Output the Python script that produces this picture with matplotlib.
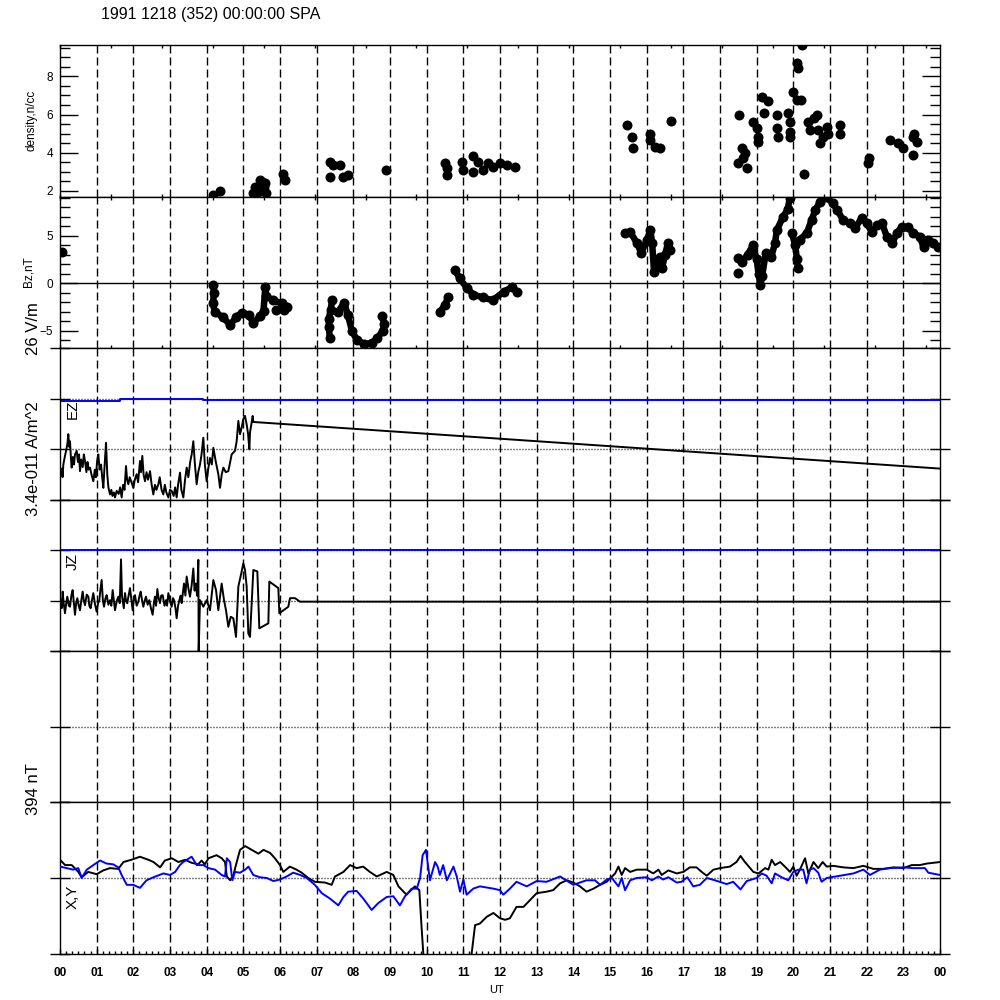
import numpy as np
import matplotlib
matplotlib.use('Agg')
import matplotlib.pyplot as plt
from matplotlib.ticker import FixedLocator, MultipleLocator, NullLocator

plt.rcParams['font.family'] = ['Liberation Sans', 'DejaVu Sans']
plt.rcParams['lines.scale_dashes'] = False

# ---------------- data ----------------
title = '1991 1218 (352) 00:00:00 SPA'
hour_labels = ['%02d' % (h % 24) for h in range(25)]

dens_h = [4.17, 4.36, 5.27, 5.4, 5.5, 5.6, 5.37, 5.33, 5.45, 5.55, 5.62, 6.08, 6.14,
          7.36, 7.45, 7.36, 7.64, 7.72, 7.85, 8.9,
          10.5, 10.55, 10.55, 10.96, 10.99, 11.27, 11.4, 11.27, 11.54, 11.67, 11.8, 12.0, 12.2, 12.4,
          15.46, 15.6, 15.63, 16.1, 16.1, 16.23, 16.36, 16.66,
          18.52, 18.6, 18.68, 18.63, 18.5, 18.74, 18.9, 19.0, 19.04, 19.04, 19.14, 19.3, 19.2,
          19.55, 19.55, 19.58, 19.85, 19.9, 19.9, 19.9, 20.0, 20.1, 20.2, 20.1, 20.12, 20.23, 20.3,
          20.4, 20.45, 20.55, 20.65, 20.67, 20.73, 20.8, 20.92, 20.95, 21.27, 21.27, 22.07, 22.04,
          22.64, 22.85, 23.0, 23.27, 23.3, 23.38, 23.27]
dens_v = [1.8, 2.0, 1.9, 2.2, 2.45, 2.4, 1.9, 2.2, 2.55, 2.2, 1.9, 2.9, 2.55,
          3.5, 3.35, 2.7, 3.35, 2.7, 2.8, 3.1,
          3.45, 3.2, 2.85, 3.5, 3.1, 3.8, 3.5, 3.0, 3.1, 3.45, 3.25, 3.45, 3.35, 3.25,
          5.45, 4.8, 4.25, 5.0, 4.65, 4.3, 4.25, 5.65,
          5.95, 4.25, 4.0, 3.7, 3.45, 3.2, 5.6, 5.3, 4.8, 4.55, 6.9, 6.7, 6.1,
          6.0, 5.3, 4.8, 6.1, 5.6, 5.1, 4.8, 7.2, 6.75, 6.75, 8.7, 8.45, 9.65, 2.9,
          5.6, 5.2, 5.8, 6.0, 5.2, 4.5, 4.8, 5.35, 5.0, 5.45, 5.0, 3.7, 3.45,
          4.65, 4.5, 4.25, 4.8, 5.0, 4.55, 3.9]

nan = np.nan
bz_h = [0.05, nan,
        4.18, 4.2, 4.17, 4.22, 4.45, 4.64, 4.8, 4.95, 5.15, 5.27, 5.45, 5.55, 5.6, 5.62, 5.8, 6.05, 6.2, 6.1, 5.9, nan,
        7.42, 7.38, 7.33, 7.33, 7.36, nan,
        7.58, 7.75, 7.85, 7.96, 8.1, 8.3, 8.5, 8.65, 8.8, 8.85, 8.78, nan,
        10.36, 10.5, 10.58, nan,
        10.77, 10.9, 11.1, 11.27, 11.54, 11.8, 12.1, 12.33, 12.45, nan,
        15.4, 15.55, 15.74, 15.85, 16.0, 16.1, 16.15, 16.2, 16.3, 16.36, 16.42, 16.5, 16.58, 16.64, nan,
        18.5, nan,
        18.48, 18.6, 18.75, 18.9, 19.0, 19.05, 19.1, 19.15, 19.25, 19.4, 19.5, 19.55, 19.72, 19.85, 19.9, nan,
        19.96, 20.05, 20.1, 20.12, nan,
        20.18, 20.37, 20.5, 20.6, 20.73, 20.9, 21.08, 21.2, 21.35, 21.55, 21.68, 21.87, 22.0, 22.14,
        22.28, 22.42, 22.55, 22.7, 22.82, 22.96, 23.13, 23.27, 23.45, 23.55, 23.67, 23.82, 23.95]
bz_v = [3.3, nan,
        -0.2, -1.0, -2.1, -3.0, -3.6, -4.4, -3.6, -3.1, -3.3, -4.2, -3.5, -2.9, -0.4, -1.3, -1.8, -2.1, -2.5, -2.8, -2.8, nan,
        -1.8, -2.8, -3.8, -4.6, -5.8, nan,
        -3.0, -2.1, -3.3, -5.0, -6.0, -6.4, -6.3, -5.8, -5.0, -4.3, -3.5, nan,
        -3.0, -2.3, -1.5, nan,
        1.4, 0.5, -0.5, -1.2, -1.5, -1.8, -0.9, -0.4, -0.9, nan,
        5.3, 5.4, 4.2, 3.2, 4.5, 5.6, 4.2, 1.2, 2.2, 2.8, 1.6, 3.0, 4.2, 3.5, nan,
        1.1, nan,
        2.7, 2.2, 3.0, 4.0, 2.5, 1.0, -0.2, 0.8, 3.2, 2.8, 4.2, 5.6, 7.0, 7.8, 9.0, nan,
        5.3, 4.0, 2.5, 1.6, nan,
        4.6, 5.3, 6.7, 7.7, 8.6, 9.1, 8.4, 7.7, 6.7, 6.3, 5.8, 6.9, 6.3, 5.4,
        6.1, 6.3, 4.9, 4.2, 5.3, 5.9, 5.9, 5.3, 4.9, 3.8, 4.6, 4.2, 3.8]

ez_h = [0.018, 0.05, 0.07, 0.091, 0.13, 0.16, 0.2, 0.227, 0.25, 0.273, 0.3, 0.318, 0.35, 0.38,
        0.41, 0.455, 0.49, 0.52, 0.545, 0.58, 0.62, 0.65, 0.682, 0.72, 0.75, 0.78, 0.818, 0.86,
        0.909, 0.95, 0.98, 1.01, 1.045, 1.08, 1.12, 1.15, 1.182, 1.21, 1.255, 1.29, 1.32, 1.364,
        1.4, 1.43, 1.47, 1.5, 1.545, 1.6, 1.64, 1.682, 1.72, 1.76, 1.8, 1.83, 1.864, 1.9, 1.95,
        2.0, 2.04, 2.091, 2.13, 2.182, 2.21, 2.245, 2.28, 2.318, 2.36, 2.4, 2.455, 2.5, 2.545,
        2.59, 2.63, 2.682, 2.72, 2.77, 2.818, 2.86, 2.9, 2.955, 3.0, 3.045, 3.1, 3.14, 3.182,
        3.22, 3.273, 3.31, 3.364, 3.41, 3.455, 3.5, 3.55, 3.591, 3.636, 3.68, 3.727, 3.77, 3.818,
        3.86, 3.909, 3.95, 4.0, 4.04, 4.091, 4.14, 4.182, 4.25, 4.318, 4.364, 4.41, 4.455, 4.52,
        4.591, 4.64, 4.682, 4.773, 4.818, 4.864, 4.91, 4.955, 5.0, 5.045, 5.091, 5.13, 5.164,
        5.182, 5.22, 5.255, 5.273, 24.0]
ez_v = [0.51, 0.62, 0.45, 0.70, 0.85, 0.95, 1.1, 1.30, 1.05, 1.16, 0.8, 0.64, 0.85, 0.7,
        0.9, 0.97, 0.75, 0.9, 0.57, 0.8, 0.65, 0.9, 0.77, 0.55, 0.75, 0.6, 0.64, 0.5,
        0.37, 0.6, 0.45, 0.75, 0.9, 0.6, 0.7, 0.45, 0.24, 0.6, 1.13, 0.5, 0.25, 0.11,
        0.2, 0.08, 0.15, 0.05, 0.18, 0.12, 0.25, 0.05, 0.3, 0.2, 0.67, 0.4, 0.31, 0.45, 0.35,
        0.24, 0.4, 0.51, 0.35, 0.77, 0.55, 0.87, 0.5, 0.37, 0.55, 0.4, 0.57, 0.3, 0.11,
        0.3, 0.2, 0.31, 0.45, 0.2, 0.11, 0.3, 0.15, 0.05, 0.2, 0.18, 0.08, 0.25, 0.05,
        0.3, 0.54, 0.2, 0.05, 0.4, 0.64, 0.45, 0.75, 0.90, 1.16, 0.7, 0.31, 0.55, 0.70,
        0.9, 1.23, 0.7, 0.37, 0.6, 0.83, 0.7, 1.03, 0.75, 0.51, 0.24, 0.5, 0.64, 0.55,
        0.57, 0.75, 0.90, 0.97, 1.16, 1.56, 1.3, 1.43, 1.6, 1.66, 1.49, 1.3, 1.0,
        1.33, 1.5, 1.66, 1.54, 0.62]
ez_ref_h = [0.0, 1.64, 3.9, 24.0]
ez_ref_v = [1.95, 2.0, 1.97, 1.97]

jz_h = [0.018, 0.045, 0.073, 0.1, 0.136, 0.17, 0.2, 0.24, 0.273, 0.31, 0.345, 0.38, 0.409, 0.44,
        0.473, 0.51, 0.545, 0.58, 0.618, 0.65, 0.682, 0.73, 0.773, 0.8, 0.836, 0.87, 0.909, 0.95,
        1.0, 1.04, 1.073, 1.1, 1.136, 1.17, 1.2, 1.24, 1.273, 1.32, 1.364, 1.4, 1.436, 1.47, 1.5,
        1.55, 1.591, 1.63, 1.664, 1.69, 1.709, 1.74, 1.773, 1.8, 1.836, 1.87, 1.909, 1.95, 1.982,
        2.01, 2.045, 2.09, 2.136, 2.17, 2.2, 2.24, 2.273, 2.31, 2.345, 2.39, 2.436, 2.48, 2.527,
        2.56, 2.591, 2.62, 2.655, 2.69, 2.727, 2.76, 2.8, 2.85, 2.891, 2.92, 2.955, 3.0, 3.045,
        3.08, 3.109, 3.15, 3.182, 3.22, 3.255, 3.29, 3.318, 3.35, 3.382, 3.42, 3.455, 3.5, 3.545,
        3.59, 3.636, 3.67, 3.7, 3.74, 3.773, 3.782,
        3.818, 3.909, 4.0, 4.091, 4.182, 4.255, 4.318, 4.409, 4.473, 4.527, 4.591, 4.655, 4.727,
        4.8, 4.864, 4.955, 5.0, 5.045, 5.091, 5.136, 5.182, 5.273, 5.382, 5.436, 5.682, 5.709,
        5.955, 5.982, 6.227, 6.273, 6.409, 6.545, 6.8, 24.0]
jz_v = [1.01, 0.85, 1.18, 0.95, 0.75, 0.95, 1.08, 0.9, 0.88, 1.1, 1.21, 0.95, 0.72, 0.95,
        1.05, 0.9, 0.81, 1.0, 1.18, 1.0, 0.91, 1.12, 1.08, 0.9, 0.85, 1.0, 1.15, 0.95,
        0.78, 0.95, 1.01, 1.2, 1.41, 1.0, 0.88, 1.05, 1.11, 0.92, 1.01, 0.9, 1.21, 1.0, 0.81,
        1.0, 1.08, 0.95, 1.82, 1.1, 1.01, 0.85, 1.15, 1.0, 0.95, 1.1, 1.25, 1.0, 0.81,
        1.0, 1.11, 0.9, 0.98, 1.1, 1.18, 1.0, 0.88, 1.0, 1.08, 0.92, 1.01, 0.85, 0.72,
        0.95, 1.08, 0.9, 1.23, 1.05, 0.95, 1.1, 1.11, 0.9, 1.01, 0.9, 1.15, 1.0, 0.88,
        1.05, 1.01, 0.85, 0.65, 0.9, 1.01, 1.1, 0.95, 1.15, 1.34, 1.1, 1.48, 1.25, 1.08,
        1.3, 1.64, 1.2, 1.34, 1.1, 1.81, -0.01,
        1.01, 0.88, 1.01, 0.81, 1.41, 1.21, 0.81, 1.34, 1.01, 0.81, 0.48, 0.68, 0.65,
        0.28, 1.28, 1.58, 1.74, 1.61, 1.28, 0.35, 0.28, 1.61, 1.58, 0.45, 0.55, 1.38,
        1.25, 0.75, 0.88, 1.05, 1.05, 0.98, 0.98, 0.98]
jz_ref_h = [0.0, 24.0]
jz_ref_v = [2.0, 2.0]

x_h = [0, 0.14, 0.23, 0.32, 0.5, 0.59, 0.77, 1.0, 1.18, 1.36, 1.59, 1.73, 1.95, 2.18, 2.41, 2.55,
       2.73, 2.86, 3.05, 3.23, 3.41, 3.59, 3.77, 3.86, 3.95, 4.05, 4.27, 4.41, 4.5, 4.55, 4.64,
       4.73, 4.82, 4.91, 5.05, 5.23, 5.41, 5.55, 5.73, 5.86, 6.0, 6.09, 6.27, 6.45, 6.59, 6.77,
       6.95, 7.23, 7.41, 7.5, 7.73, 7.91, 8.09, 8.27, 8.45, 8.64, 8.91, 9.09, 9.23, 9.45, 9.68,
       9.8, 9.86, 9.95, nan,
       11.15, 11.32, 11.45, 11.64, 11.82, 12.0, 12.14, 12.27, 12.45, 12.64, 12.82, 13.0, 13.27,
       13.45, 13.64, 13.82, 14.0, 14.18, 14.36, 14.55, 14.73, 14.91, 15.14, 15.23, 15.32, 15.41,
       15.55, 15.73, 16.0, 16.18, 16.32, 16.41, 16.59, 16.82, 17.0, 17.18, 17.36, 17.5, 17.64,
       17.82, 18.0, 18.27, 18.45, 18.56, 18.68, 18.91, 19.05, 19.23, 19.32, 19.41, 19.5, 19.64,
       19.77, 19.91, 20.0, 20.09, 20.18, 20.32, 20.41, 20.55, 20.68, 20.8, 20.91, 21.09, 21.36,
       21.64, 21.91, 22.18, 22.45, 22.73, 23.0, 23.23, 23.45, 23.64, 23.82, 24.0]
x_v = [0.24, 0.17, 0.17, 0.17, 0.08, 0.01, 0.08, 0.05, 0.1, 0.13, 0.12, 0.21, 0.24, 0.28, 0.24, 0.21,
       0.14, 0.23, 0.26, 0.21, 0.24, 0.2, 0.18, 0.23, 0.18, 0.26, 0.3, 0.26, 0.21, 0.02, -0.03,
       0.04, 0.21, 0.37, 0.42, 0.37, 0.32, 0.37, 0.33, 0.26, 0.17, 0.08, 0.15, 0.11, 0.07, 0.0,
       -0.05, -0.06, -0.09, 0.02, 0.08, 0.17, 0.13, 0.15, 0.08, 0.02, 0.08, 0.04, -0.11, -0.22, -0.11,
       -0.16, -0.64, -1.3, nan,
       -1.3, -0.62, -0.6, -0.51, -0.46, -0.53, -0.55, -0.53, -0.38, -0.38, -0.29, -0.2, -0.18,
       -0.16, -0.07, -0.03, -0.06, -0.11, -0.18, -0.14, -0.09, -0.05, 0.06, 0.15, 0.04, 0.13,
       0.08, 0.11, 0.11, 0.06, 0.11, 0.04, 0.1, 0.06, 0.08, 0.14, 0.14, 0.08, 0.03,
       0.11, 0.13, 0.15, 0.21, 0.29, 0.21, 0.08, 0.06, 0.13, 0.11, 0.24, 0.17, 0.21,
       0.15, 0.08, 0.15, 0.03, 0.11, 0.26, 0.06, 0.21, 0.13, 0.21, 0.15, 0.16, 0.14,
       0.13, 0.16, 0.12, 0.12, 0.14, 0.13, 0.17, 0.17, 0.19, 0.2, 0.21]

y_h = [0, 0.18, 0.36, 0.5, 0.59, 0.73, 0.91, 1.09, 1.27, 1.45, 1.59, 1.68, 1.82, 2.0, 2.18, 2.36,
       2.55, 2.82, 3.0, 3.14, 3.27, 3.36, 3.59, 3.73, 3.91, 4.05, 4.23, 4.41, 4.5, 4.55, 4.64, 4.7,
       4.77, 4.91, 5.05, 5.14, 5.27, 5.45, 5.64, 5.82, 6.0, 6.18, 6.36, 6.55, 6.73, 6.95, 7.14,
       7.36, 7.59, 7.73, 7.86, 8.09, 8.27, 8.5, 8.68, 8.91, 9.09, 9.27, 9.41, 9.59, 9.73, 9.82,
       9.89, 9.98, 10.09, 10.23, 10.3, 10.36, 10.45, 10.55, 10.73, 10.82, 10.91, 11.0, 11.09,
       11.27, 11.45, 11.82, 12.0, 12.09, 12.27, 12.45, 12.73, 13.0, 13.27, 13.64, 14.0, 14.36,
       14.59, 14.73, 14.91, 15.05, 15.23, 15.32, 15.41, 15.55, 15.73, 16.0, 16.14, 16.32, 16.45,
       16.59, 16.82, 16.95, 17.11, 17.27, 17.45, 17.64, 17.86, 18.18, 18.36, 18.56, 18.73, 19.0,
       19.14, 19.27, 19.41, 19.5, 19.68, 19.86, 20.0, 20.14, 20.27, 20.36, 20.45, 20.55, 20.68,
       20.77, 20.91, 21.27, 21.64, 21.91, 22.09, 22.36, 22.64, 23.0, 23.27, 23.59, 23.68, 24.0]
y_v = [0.15, 0.13, 0.11, 0.13, 0.0, 0.11, 0.17, 0.23, 0.19, 0.18, 0.14, 0.04, -0.09, -0.09, -0.13,
       -0.03, 0.01, 0.06, 0.04, 0.08, 0.17, 0.21, 0.28, 0.17, 0.17, 0.13, 0.11, 0.04, 0.02, 0.26,
       0.21, -0.03, 0.08, 0.07, 0.11, 0.15, 0.04, 0.01, 0.0, -0.04, -0.02, 0.02, 0.07, 0.04, 0.0,
       -0.09, -0.2, -0.27, -0.36, -0.25, -0.18, -0.17, -0.27, -0.42, -0.33, -0.25, -0.24, -0.36,
       -0.24, -0.14, -0.14, 0.0, 0.3, 0.37, -0.03, 0.21, 0.15, 0.04, 0.17, -0.03, 0.15, 0.02,
       -0.18, -0.02, -0.22, -0.14, -0.11, -0.14, -0.16, -0.22, -0.14, -0.05, -0.11, -0.04, -0.05,
       0.02, -0.09, -0.03, -0.03, -0.09, -0.02, 0.0, -0.11, 0.0, -0.16, -0.03, 0.0, 0.01, -0.03,
       0.02, -0.02, 0.01, -0.06, -0.05, 0.01, -0.11, -0.09, 0.0, -0.03, -0.08, -0.05, -0.15,
       -0.04, 0.0, 0.06, 0.03, -0.07, 0.06, 0.01, -0.03, 0.08, 0.11, 0.11, -0.07, 0.11, 0.13,
       0.07, -0.05, 0.0, 0.03, 0.06, 0.11, 0.04, 0.11, 0.13, 0.14, 0.13, 0.13, 0.07, 0.04]

# ---------------- layout ----------------
PX = 0.72  # points per pixel at 100 dpi
fig = plt.figure(figsize=(10, 10), dpi=100)
bounds = [45, 197, 348, 500, 651, 802, 954]
axes = []
for i in range(6):
    top, bot = bounds[i], bounds[i + 1]
    ax = fig.add_axes([0.06, 1 - bot / 1000, 0.88, (bot - top) / 1000])
    ax.set_xlim(0, 24)
    for s in ax.spines.values():
        s.set_linewidth(1.0)
    for h in range(1, 24):
        ax.axvline(h, color='k', lw=1.0, dashes=(8 * PX, 4 * PX), zorder=1)
    axes.append(ax)

BLUE = '#0000ff'
tick_fs = 8.5

# density
ax = axes[0]
ax.scatter(dens_h, dens_v, s=(10 * PX) ** 2, color='k', zorder=3, linewidths=0)
ax.set_ylim(1.67, 9.65)
ax.yaxis.set_major_locator(FixedLocator([2, 4, 6, 8]))
ax.yaxis.set_minor_locator(MultipleLocator(0.5))

# Bz
ax = axes[1]
ax.plot(bz_h, bz_v, '-o', color='k', lw=6.5 * PX, ms=10 * PX, mew=0, zorder=3,
        solid_capstyle='round', solid_joinstyle='round')
ax.axhline(0, color='k', lw=1.0, zorder=2)
ax.set_ylim(-6.82, 9.08)
ax.yaxis.set_major_locator(FixedLocator([-5, 0, 5]))
ax.yaxis.set_minor_locator(MultipleLocator(1))

for ax in axes[:2]:
    ax.tick_params(axis='y', which='major', direction='in', length=18 * PX, width=1.0,
                   left=True, right=True, labelsize=tick_fs, pad=5)
    ax.tick_params(axis='y', which='minor', direction='in', length=10 * PX, width=1.0,
                   left=True, right=True)
    ax.xaxis.set_major_locator(FixedLocator(np.arange(0, 24.01, 5000 / 3600)))
    ax.xaxis.set_minor_locator(NullLocator())
    ax.tick_params(axis='x', which='major', direction='in', length=3 * PX, width=1.0,
                   top=True, bottom=True, labelbottom=False)

dotted = dict(color='k', lw=1.0, dashes=(1 * PX, 2 * PX), zorder=1)

# EZ
ax = axes[2]
ax.set_ylim(0, 3)
ax.axhline(1, **dotted)
ax.axhline(2, **dotted)
ax.plot(ez_ref_h, ez_ref_v, color=BLUE, lw=1.4, drawstyle='steps-post', zorder=2)
ax.plot(ez_h, ez_v, color='k', lw=1.4, zorder=3)
ax.yaxis.set_major_locator(FixedLocator([0, 1, 2, 3]))

# JZ
ax = axes[3]
ax.set_ylim(0, 3)
ax.axhline(1, **dotted)
ax.plot(jz_ref_h, jz_ref_v, color=BLUE, lw=1.4, zorder=2)
ax.axhline(2, **dotted)
ax.plot(jz_h, jz_v, color='k', lw=1.4, zorder=3)
ax.yaxis.set_major_locator(FixedLocator([0, 1, 2, 3]))

# empty panel
ax = axes[4]
ax.set_ylim(-1, 1)
ax.axhline(0, **dotted)
ax.yaxis.set_major_locator(FixedLocator([-1, 0, 1]))

# X, Y
ax = axes[5]
ax.set_ylim(-1, 1)
ax.axhline(0, **dotted)
ax.plot(x_h, x_v, color='k', lw=1.4, zorder=3)
ax.plot(y_h, y_v, color=BLUE, lw=1.4, zorder=3)
ax.yaxis.set_major_locator(FixedLocator([-1, 0, 1]))

for ax in axes[2:]:
    ax.tick_params(axis='y', which='major', direction='inout', length=20 * PX, width=1.0,
                   left=True, right=True, labelleft=False)
    ax.xaxis.set_major_locator(NullLocator())

for ax in axes[2:5]:
    ax.tick_params(axis='x', which='both', length=0, labelbottom=False)

ax = axes[5]
ax.xaxis.set_major_locator(FixedLocator(range(25)))
ax.set_xticklabels(hour_labels, fontsize=tick_fs, fontweight='bold')
ax.xaxis.set_minor_locator(MultipleLocator(1 / 6))
ax.tick_params(axis='x', which='major', direction='in', length=5 * PX, width=1.0, pad=9)
ax.tick_params(axis='x', which='minor', direction='in', length=3 * PX, width=1.0)

# ---------------- texts ----------------
fig.text(0.101, 1 - 15 / 1000, title, ha='left', va='center', fontsize=11.5)
fig.text(0.497, 1 - 990 / 1000, 'UT', ha='center', va='center', fontsize=8)
fig.text(0.031, 1 - 120 / 1000, 'density,n/cc', rotation=90, ha='center', va='center', fontsize=8.5)
fig.text(0.028, 1 - 272 / 1000, 'Bz,nT', rotation=90, ha='center', va='center', fontsize=8.5)
fig.text(0.033, 1 - 329 / 1000, '26 V/m', rotation=90, ha='center', va='center', fontsize=12)
fig.text(0.033, 1 - 459 / 1000, '3.4e-011 A/m^2', rotation=90, ha='center', va='center', fontsize=12)
fig.text(0.033, 1 - 789 / 1000, '394 nT', rotation=90, ha='center', va='center', fontsize=12)
fig.text(0.0725, 1 - 409 / 1000, 'EZ', rotation=90, ha='center', va='center', fontsize=11)
fig.text(0.073, 1 - 561 / 1000, 'JZ', rotation=90, ha='center', va='center', fontsize=11)
fig.text(0.073, 1 - 897 / 1000, 'X,Y', rotation=90, ha='center', va='center', fontsize=11)

fig.savefig('out.png', dpi=100, facecolor='white')
